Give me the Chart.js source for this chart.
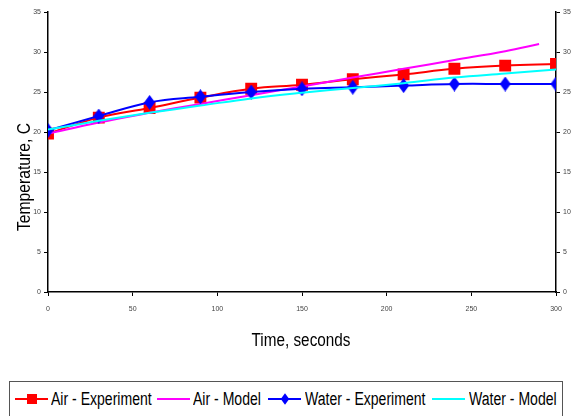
<!DOCTYPE html>
<html>
<head>
<meta charset="utf-8">
<script src="https://cdn.jsdelivr.net/npm/chart.js@4"></script>
<style>
    body { margin: 0; background: #fff; width: 574px; height: 416px; overflow: hidden; position: relative; }
    #wrap { position: absolute; left: 0; top: 0; width: 574px; height: 356px; }
    #legend {
        position: absolute; left: 9px; top: 381px; width: 554px; height: 44px;
        border: 1px solid #555; box-sizing: border-box;
        font-family: 'Liberation Sans', Arial, sans-serif;
        font-size: 18px; color: #000;
    }
    .sw { position: absolute; top: 16px; width: 33px; height: 2px; }
    .sq { position: absolute; top: 12px; width: 10px; height: 10px; background: #f00; }
    .dm { position: absolute; top: 14px; width: 6px; height: 6px; background: #00f; transform: scaleY(1.35) rotate(45deg); }
    .txt { position: absolute; top: 6px; line-height: 22px; white-space: nowrap; transform: scaleX(0.78); transform-origin: left center; }
</style>
</head>
<body>
<div id="wrap"><canvas id="chart"></canvas></div>
<div id="legend">
    <span class="sw" style="left:5px;background:#f00"></span><span class="sq" style="left:17px"></span>
    <span class="txt" style="left:41px">Air - Experiment</span>
    <span class="sw" style="left:147px;background:#f0f"></span>
    <span class="txt" style="left:183px">Air - Model</span>
    <span class="sw" style="left:258px;background:#00f"></span><span class="dm" style="left:272px"></span>
    <span class="txt" style="left:295px">Water - Experiment</span>
    <span class="sw" style="left:422px;background:#0ff"></span>
    <span class="txt" style="left:459px">Water - Model</span>
</div>
<script>
// Data
const expTimes = [0, 30, 60, 90, 120, 150, 180, 210, 240, 270, 300];
const airExperiment = [19.8, 21.8, 23.0, 24.3, 25.4, 25.9, 26.6, 27.2, 27.9, 28.3, 28.5];
const waterExperiment = [20.2, 22.0, 23.7, 24.4, 25.0, 25.4, 25.6, 25.8, 26.0, 26.0, 26.0];

const airModelTimes = [0, 30, 60, 90, 120, 150, 180, 210, 240, 270, 290];
const airModel = [19.8, 21.2, 22.4, 23.5, 24.6, 25.7, 26.8, 27.9, 29.0, 30.1, 31.0];

const waterModelTimes = [0, 30, 60, 90, 120, 150, 180, 210, 240, 270, 300];
const waterModel = [20.3, 21.4, 22.4, 23.3, 24.2, 24.9, 25.5, 26.1, 26.8, 27.3, 27.8];

const xTicks = [0, 50, 100, 150, 200, 250, 300];
const yTicks = [0, 5, 10, 15, 20, 25, 30, 35];

const xTitle = 'Time, seconds';
const yTitle = 'Temperature, C';

const sansFont = "'Liberation Sans', Arial, sans-serif";

function toPoints(xs, ys) {
    return xs.map((x, i) => ({ x: x, y: ys[i] }));
}

// tall blue diamond marker
const diamond = document.createElement('canvas');
diamond.width = 11;
diamond.height = 15;
(function() {
    const c = diamond.getContext('2d');
    c.fillStyle = '#0000ff';
    c.beginPath();
    c.moveTo(5.5, 0);
    c.lineTo(11, 7.5);
    c.lineTo(5.5, 15);
    c.lineTo(0, 7.5);
    c.closePath();
    c.fill();
})();

// axis titles drawn slightly condensed, like a narrow font
const narrowTitles = {
    id: 'narrowTitles',
    afterDraw(chart) {
        const ctx = chart.ctx;
        const area = chart.chartArea;
        ctx.save();
        ctx.fillStyle = '#000';
        ctx.font = '18px ' + sansFont;
        ctx.textAlign = 'center';
        ctx.textBaseline = 'middle';
        ctx.save();
        ctx.translate((area.left + area.right) / 2 - 1, 341);
        ctx.scale(0.85, 1);
        ctx.fillText(xTitle, 0, 0);
        ctx.restore();
        ctx.save();
        ctx.translate(25, 177);
        ctx.rotate(-Math.PI / 2);
        ctx.scale(0.87, 1);
        ctx.fillText(yTitle, 0, 0);
        ctx.restore();
        ctx.restore();
    }
};

const tickFont = { family: sansFont, size: 7 };
const axisGrid = { drawOnChartArea: false, drawTicks: true, tickLength: 4, color: '#000', lineWidth: 1 };
const axisBorder = { display: true, color: '#000', width: 1.5 };

new Chart(document.getElementById('chart'), {
    type: 'line',
    data: {
        datasets: [
            {
                label: 'Air - Experiment',
                data: toPoints(expTimes, airExperiment),
                borderColor: '#ff0000', backgroundColor: '#ff0000',
                borderWidth: 2, pointStyle: 'rect', pointRadius: 7,
                tension: 0.4, order: 4
            },
            {
                label: 'Air - Model',
                data: toPoints(airModelTimes, airModel),
                borderColor: '#ff00ff', borderWidth: 2, pointRadius: 0,
                tension: 0.4, order: 3
            },
            {
                label: 'Water - Experiment',
                data: toPoints(expTimes, waterExperiment),
                borderColor: '#0000ff', backgroundColor: '#0000ff',
                borderWidth: 2, pointStyle: diamond, pointRadius: 6,
                tension: 0.4, order: 2
            },
            {
                label: 'Water - Model',
                data: toPoints(waterModelTimes, waterModel),
                borderColor: '#00ffff', borderWidth: 2, pointRadius: 0,
                tension: 0.4, order: 1
            }
        ]
    },
    options: {
        responsive: true,
        maintainAspectRatio: false,
        animation: false,
        layout: { padding: { left: 0, top: 12, right: 0, bottom: 0 } },
        plugins: { legend: { display: false }, tooltip: { enabled: false } },
        scales: {
            x: {
                type: 'linear', min: 0, max: 300,
                afterBuildTicks: s => { s.ticks = xTicks.map(v => ({ value: v })); },
                afterFit: s => { s.height = 64; },
                ticks: { font: tickFont, color: '#444', padding: 9, maxRotation: 0 },
                grid: axisGrid, border: axisBorder
            },
            y: {
                position: 'left', min: 0, max: 35,
                afterBuildTicks: s => { s.ticks = yTicks.map(v => ({ value: v })); },
                afterFit: s => { s.width = 48; },
                ticks: { font: tickFont, color: '#444', padding: 3 },
                grid: axisGrid, border: axisBorder
            },
            y2: {
                position: 'right', min: 0, max: 35,
                afterBuildTicks: s => { s.ticks = yTicks.map(v => ({ value: v })); },
                afterFit: s => { s.width = 18; },
                ticks: { font: tickFont, color: '#444', padding: 3 },
                grid: axisGrid, border: axisBorder
            }
        }
    },
    plugins: [narrowTitles]
});
</script>
</body>
</html>
